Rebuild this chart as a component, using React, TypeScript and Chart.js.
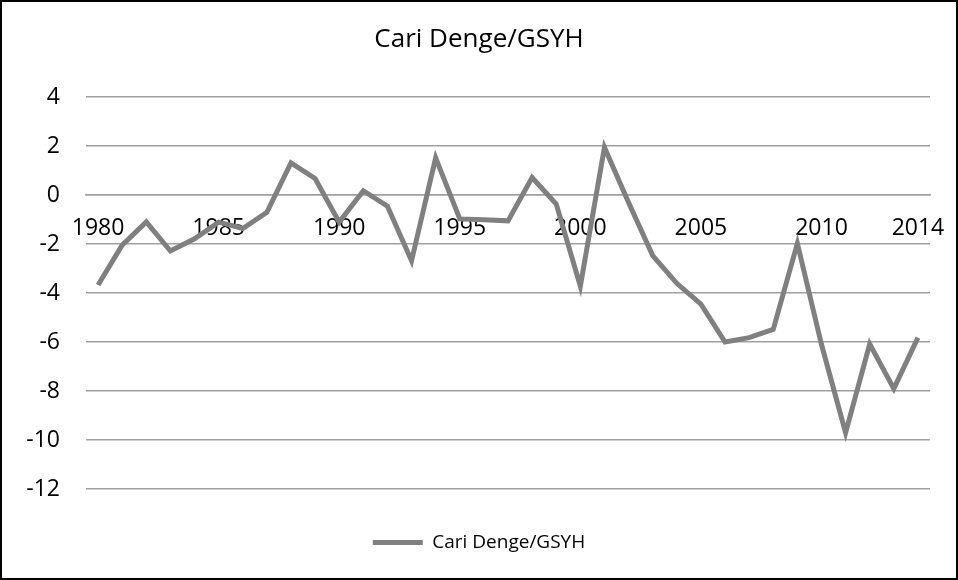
import React, { useEffect, useRef } from "react";
import { Chart, registerables } from "chart.js";

Chart.register(...registerables);

const years: string[] = [
  "1980", "1981", "1982", "1983", "1984", "1985", "1986", "1987", "1988", "1989",
  "1990", "1991", "1992", "1993", "1994", "1995", "1996", "1997", "1998", "1999",
  "2000", "2001", "2002", "2003", "2004", "2005", "2006", "2007", "2008", "2009",
  "2010", "2011", "2012", "2013", "2014",
];

const cariDenge: number[] = [
  -3.67, -2.04, -1.09, -2.28, -1.78, -1.1, -1.36, -0.7, 1.32, 0.68,
  -1.1, 0.18, -0.45, -2.68, 1.52, -0.97, -1.0, -1.05, 0.72, -0.36,
  -3.72, 1.95, -0.3, -2.47, -3.6, -4.45, -6.0, -5.82, -5.48, -1.97,
  -6.1, -9.7, -6.08, -7.9, -5.82,
];

const shownYearLabels: string[] = ["1980", "1985", "1990", "1995", "2000", "2005", "2010", "2014"];

const seriesName = "Cari Denge/GSYH";
const chartTitle = "Cari Denge/GSYH";

const FONT = "'Open Sans', sans-serif";

export default function App() {
  const ref = useRef<HTMLCanvasElement | null>(null);

  useEffect(() => {
    if (!ref.current) return;
    const chart = new Chart(ref.current, {
      type: "line",
      data: {
        labels: years,
        datasets: [
          {
            label: seriesName,
            data: cariDenge,
            borderColor: "#808080",
            backgroundColor: "#808080",
            borderWidth: 5,
            pointRadius: 0,
            tension: 0,
            borderJoinStyle: "miter",
          },
        ],
      },
      options: {
        animation: false,
        responsive: false,
        maintainAspectRatio: false,
        layout: { padding: { left: 0, right: 0, top: 0, bottom: 18 } },
        plugins: {
          tooltip: { enabled: false },
          title: {
            display: true,
            text: chartTitle,
            color: "#000",
            font: { family: FONT, size: 26, weight: "normal" },
            padding: { top: 24, bottom: 42 },
          },
          legend: {
            display: true,
            position: "bottom",
            labels: {
              color: "#000",
              font: { family: FONT, size: 19 },
              usePointStyle: true,
              pointStyle: "line",
              pointStyleWidth: 50,
              padding: 44,
            },
          },
        },
        scales: {
          x: {
            type: "category",
            position: { y: 0 },
            offset: true,
            grid: { display: false, drawTicks: true, tickLength: 18 },
            border: { display: true, color: "#a0a0a0", width: 1.5 },
            ticks: {
              color: "#000",
              font: { family: FONT, size: 23 },
              padding: 2,
              autoSkip: false,
              maxRotation: 0,
              minRotation: 0,
              callback: function (_v: any, index: number) {
                const lab = years[index];
                return shownYearLabels.includes(lab) ? lab : "";
              },
            },
          },
          y: {
            min: -12,
            max: 4,
            grid: { color: "#a0a0a0", lineWidth: 1.5, drawTicks: false },
            border: { display: false },
            ticks: {
              stepSize: 2,
              color: "#000",
              font: { family: FONT, size: 23 },
              padding: 26,
            },
            afterFit: (scale: any) => {
              scale.width = 86;
            },
          },
          yRight: {
            position: "right",
            min: -12,
            max: 4,
            grid: { display: false, drawTicks: false },
            border: { display: false },
            ticks: { display: false },
            afterFit: (scale: any) => {
              scale.width = 28;
            },
          },
        },
      },
    });
    return () => chart.destroy();
  }, []);

  return (
    <div style={{ position: "absolute", left: 0, top: 0, width: 958, height: 580, background: "#fff" }}>
      <canvas ref={ref} width={958} height={580} style={{ display: "block", width: 958, height: 580 }} />
      <div
        style={{
          position: "absolute",
          left: 0,
          top: 0,
          width: 958,
          height: 580,
          boxSizing: "border-box",
          border: "2px solid #000",
          pointerEvents: "none",
        }}
      />
    </div>
  );
}
